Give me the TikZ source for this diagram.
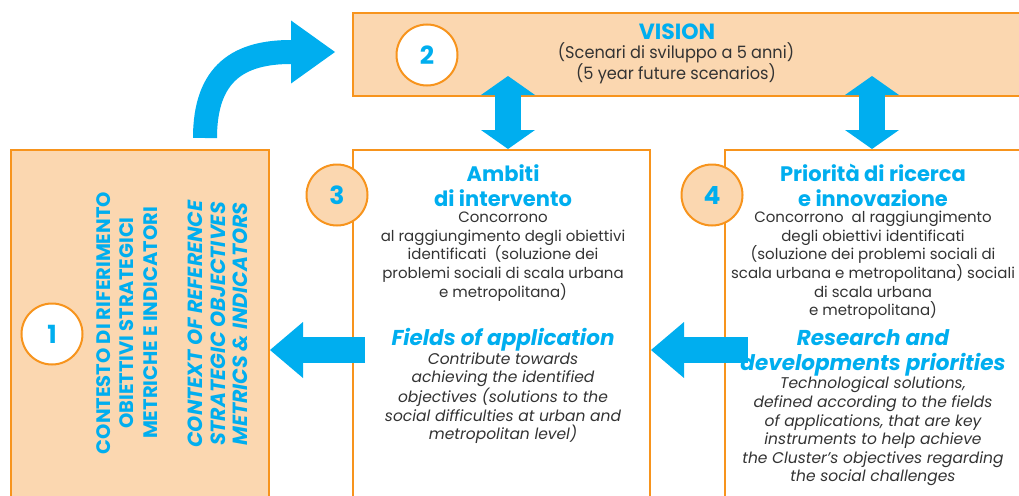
\documentclass[tikz,border=0pt]{standalone}
\usepackage{fontspec}
\setmainfont{Poppins}
\usetikzlibrary{arrows.meta}
\definecolor{cblue}{HTML}{00AEEF}
\definecolor{corange}{HTML}{F7941D}
\definecolor{cpeach}{HTML}{FBD7B0}
\definecolor{cgray}{HTML}{333333}
\begin{document}
\begin{tikzpicture}[x=1pt,y=-1pt,
  box/.style={draw=corange, line width=2pt, anchor=north west, inner sep=0pt},
  num/.style={circle, draw=corange, line width=2pt, minimum size=61pt, inner sep=0pt,
    font=\bfseries\fontsize{25}{25}\selectfont, text=cblue},
  fat/.style={draw=cblue, line width=26pt},
  ttl/.style={text=cblue, font=\bfseries\fontsize{21}{25}\selectfont, align=center},
  ttli/.style={text=cblue, font=\bfseries\itshape\fontsize{21.5}{25}\selectfont, align=center},
  bodytxt/.style={text=cgray, font=\fontsize{15}{18.6}\selectfont, align=center},
  itxt/.style={text=cgray, font=\itshape\fontsize{15.5}{18.6}\selectfont, align=center},
  side/.style={rotate=90, text=cblue, align=center, font=\bfseries\fontsize{19.5}{23.5}\selectfont},
  sidei/.style={rotate=90, text=cblue, align=center, font=\bfseries\itshape\fontsize{20.5}{22.5}\selectfont},
  vis/.style={text=cgray, font=\fontsize{17}{21}\selectfont, align=center},
]
\useasboundingbox (0,0) rectangle (1019,495);
\clip (0,0) rectangle (1019,495);
% boxes
\node[box, fill=cpeach, minimum width=258pt, minimum height=380pt] (b1) at (10,149) {};
\node[box, fill=cpeach, minimum width=700pt, minimum height=83pt] (b2) at (352,12) {};
\node[box, fill=white, minimum width=297pt, minimum height=380pt] (b3) at (352,149) {};
\node[box, fill=white, minimum width=320pt, minimum height=380pt] (b4) at (724,149) {};
% arrows
\coordinate (a1s) at (365,350);
\coordinate (a2s) at (748,350);
\draw[fat, -{Triangle[length=33pt,width=56pt,line width=0pt]}] (a1s) -- (b1.east |- a1s);
\draw[fat, -{Triangle[length=33pt,width=56pt,line width=0pt]}] (a2s) -- (b3.east |- a2s);
\coordinate (v1) at (508,76);
\coordinate (v2) at (872,76);
\draw[fat, {Triangle[length=19pt,width=54pt,line width=0pt]}-{Triangle[length=19pt,width=54pt,line width=0pt]}] (v1) -- (v1 |- b3.north);
\draw[fat, {Triangle[length=19pt,width=54pt,line width=0pt]}-{Triangle[length=19pt,width=54pt,line width=0pt]}] (v2) -- (v2 |- b4.north);
\coordinate (c0) at (205,138);
\coordinate (c1) at (335,52);
\draw[draw=cblue, line width=24pt, -{Triangle[length=44pt,width=63pt,line width=0pt]}] (c0) .. controls (205,72) and (240,52) .. (c1);
% circles
\node[num, fill=white] (n1) at (52,334) {1};
\node[num, fill=white] (n2) at (427,55) {2};
\node[num, fill=cpeach] (n3) at (337,195) {3};
\node[num, fill=cpeach] (n4) at (712,195) {4};
% box 1 text
\node[side] (t1a) at (127,323) {CONTESTO DI RIFERIMENTO\\OBIETTIVI STRATEGICI\\METRICHE E INDICATORI};
\node[sidei] (t1b) at (218,324) {CONTEXT OF REFERENCE\\STRATEGIC OBJECTIVES\\METRICS \& INDICATORS};
% vision
\node[text=cblue, font=\bfseries\fontsize{22}{24}\selectfont] (t2a) at (677,32) {VISION};
\node[vis] (t2b) at (676,63) {\scalebox{0.95}[1]{(Scenari di sviluppo a 5 anni)}\\\scalebox{0.95}[1]{(5 year future scenarios)}};
% box 3 text
\node[ttl] (t3a) at (503,185.5) {Ambiti\\di intervento};
\node[bodytxt] (t3b) at (503,256.5) {Concorrono\\al raggiungimento degli obiettivi\\identificati~ (soluzione dei\\problemi sociali di scala urbana\\e metropolitana)};
\node[ttli] (t3c) at (503,340) {Fields of application};
\node[itxt] (t3d) at (503,398) {Contribute towards\\achieving the identified\\objectives (solutions to the\\social difficulties at urban and\\metropolitan level)};
% box 4 text
\node[ttl] (t4a) at (873,185.5) {Priorità di ricerca\\e innovazione};
\node[bodytxt] (t4b) at (873,265.5) {Concorrono~ al raggiungimento\\degli obiettivi identificati\\(soluzione dei problemi sociali di\\scala urbana e metropolitana) sociali\\di scala urbana\\e metropolitana)};
\node[ttli] (t4c) at (873,352.5) {Research and\\developments priorities};
\node[itxt] (t4d) at (873,431.5) {Technological solutions,\\defined according to the fields\\of applications, that are key\\instruments to help achieve\\the Cluster’s objectives regarding\\the social challenges};
\end{tikzpicture}
\end{document}
